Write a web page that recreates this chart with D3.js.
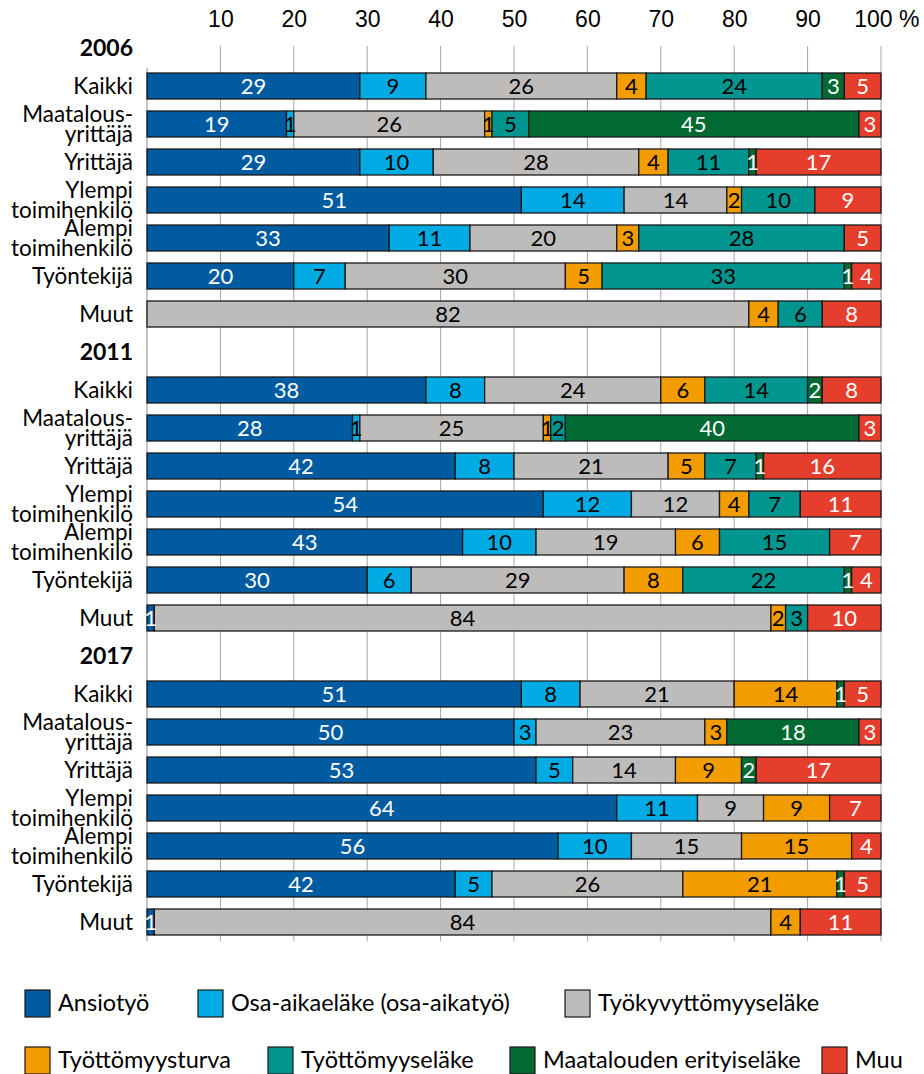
<!DOCTYPE html>
<html>
<head>
<meta charset="utf-8">
<script src="https://cdn.jsdelivr.net/npm/d3@7"></script>
<style>
  body { margin: 0; background: #fff; }
  svg { font-family: Lato, "Open Sans", sans-serif; }
  .tick text { font-size: 23px; fill: #000; }
</style>
</head>
<body>
<svg id="chart"></svg>
<script>
// Chart data.
const years = ["2006", "2011", "2017"];
const groups = ["Kaikki", "Maatalous-\nyrittäjä", "Yrittäjä", "Ylempi\ntoimihenkilö",
  "Alempi\ntoimihenkilö", "Työntekijä", "Muut"];
const series = ["Ansiotyö", "Osa-aikaeläke (osa-aikatyö)", "Työkyvyttömyyseläke",
  "Työttömyysturva", "Työttömyyseläke", "Maatalouden erityiseläke", "Muu"];
const colors = ["#005ba1", "#00abe4", "#bebcba", "#f39c00", "#00958e", "#006a32", "#e63e2c"];
const labelColors = ["#fff", "#000", "#000", "#000", "#000", "#fff", "#fff"];
const tickValues = [10, 20, 30, 40, 50, 60, 70, 80, 90, 100];

// one row per group, values in series order
const values2006 = [
  [29, 9, 26, 4, 24, 3, 5],
  [19, 1, 26, 1, 5, 45, 3],
  [29, 10, 28, 4, 11, 1, 17],
  [51, 14, 14, 2, 10, 0, 9],
  [33, 11, 20, 3, 28, 0, 5],
  [20, 7, 30, 5, 33, 1, 4],
  [0, 0, 82, 4, 6, 0, 8]
];
const values2011 = [
  [38, 8, 24, 6, 14, 2, 8],
  [28, 1, 25, 1, 2, 40, 3],
  [42, 8, 21, 5, 7, 1, 16],
  [54, 12, 12, 4, 7, 0, 11],
  [43, 10, 19, 6, 15, 0, 7],
  [30, 6, 29, 8, 22, 1, 4],
  [1, 0, 84, 2, 3, 0, 10]
];
const values2017 = [
  [51, 8, 21, 14, 0, 1, 5],
  [50, 3, 23, 3, 0, 18, 3],
  [53, 5, 14, 9, 0, 2, 17],
  [64, 11, 9, 9, 0, 0, 7],
  [56, 10, 15, 15, 0, 0, 4],
  [42, 5, 26, 21, 0, 1, 5],
  [1, 0, 84, 4, 0, 0, 11]
];
const valuesByYear = [values2006, values2011, values2017];

const width = 924;
const height = 1074;

const svg = d3.select("#chart")
  .attr("width", width)
  .attr("height", height);

function translate(x, y) {
  return "translate(" + x + "," + y + ")";
}

// Build rows: a header row per year followed by its groups.
let rows = [];
years.forEach((year, yi) => {
  rows.push({ id: year, header: true, label: year });
  groups.forEach((g, gi) => {
    let row = { id: year + "-" + gi, header: false, label: g };
    series.forEach((s, si) => row[s] = valuesByYear[yi][gi][si]);
    rows.push(row);
  });
});
const barRows = rows.filter(r => !r.header);

const xScale = d3.scaleLinear().domain([0, 100]).range([147, 881]);
const yScale = d3.scaleBand()
  .domain(rows.map(r => r.id))
  .range([29, 941])
  .paddingInner(0.316)
  .paddingOuter(0.158);

drawGrid();
drawAxis();
drawBars();
drawRowLabels();
drawLegend();

function drawGrid() {
  let grid = svg.append("g").attr("id", "grid");
  grid.selectAll("line.grid")
    .data(tickValues)
    .enter()
    .append("line")
    .attr("class", "grid")
    .attr("x1", d => xScale(d)).attr("x2", d => xScale(d))
    .attr("y1", 46).attr("y2", 941)
    .attr("stroke", "#a6a6a6")
    .attr("stroke-width", 1);

  grid.append("line")
    .attr("x1", xScale(0)).attr("x2", xScale(0))
    .attr("y1", 68).attr("y2", 941)
    .attr("stroke", "#8c8c8c")
    .attr("stroke-width", 1);
}

function drawAxis() {
  let axis = d3.axisTop(xScale).tickValues(tickValues).tickSize(0).tickFormat(d3.format("d"));
  let g = svg.append("g")
    .attr("id", "x-axis")
    .attr("transform", translate(0, 29))
    .call(axis);
  g.select(".domain").remove();
  g.selectAll("text")
    .attr("y", -10)
    .attr("dy", "0.36em");

  // last label reads "100 %"; keep it inside the picture
  g.selectAll(".tick text").filter(d => d === 100)
    .attr("text-anchor", "end")
    .attr("x", width - 5 - xScale(100))
    .text("100 %");
}

function drawBars() {
  let stack = d3.stack().keys(series);
  let layers = stack(barRows);

  let bars = svg.append("g").attr("id", "bars");
  layers.forEach((layer, si) => {
    let segs = layer.filter(d => d[1] - d[0] > 0);
    bars.append("g")
      .selectAll("rect")
      .data(segs)
      .enter()
      .append("rect")
      .attr("x", d => xScale(d[0]))
      .attr("width", d => xScale(d[1]) - xScale(d[0]))
      .attr("y", d => yScale(d.data.id))
      .attr("height", yScale.bandwidth())
      .attr("fill", colors[si])
      .attr("stroke", "#1a1a1a")
      .attr("stroke-width", 1.3);
  });

  let labels = svg.append("g").attr("id", "bar-labels");
  layers.forEach((layer, si) => {
    let segs = layer.filter(d => d[1] - d[0] > 0);
    labels.append("g")
      .selectAll("text")
      .data(segs)
      .enter()
      .append("text")
      .attr("x", d => xScale((d[0] + d[1]) / 2))
      .attr("y", d => yScale(d.data.id) + yScale.bandwidth() / 2)
      .attr("dy", "0.36em")
      .attr("text-anchor", "middle")
      .attr("font-size", 22)
      .attr("fill", labelColors[si])
      .text(d => d[1] - d[0]);
  });
}

function drawRowLabels() {
  let lineHeight = 19.5;
  let g = svg.append("g").attr("id", "row-labels");
  let labels = g.selectAll("text")
    .data(rows)
    .enter()
    .append("text")
    .attr("text-anchor", "end")
    .attr("font-size", d => d.header ? 23 : 22.5)
    .attr("font-weight", d => d.header ? "bold" : "normal")
    .attr("y", d => yScale(d.id) + yScale.bandwidth() / 2 + 8);

  labels.each(function(d) {
    let lines = d.label.split("\n");
    let t = d3.select(this);
    lines.forEach((line, i) => {
      t.append("tspan")
        .attr("x", 133)
        .attr("dy", i == 0 ? -(lines.length - 1) * lineHeight / 2 : lineHeight)
        .text(line);
    });
  });
}

function drawLegend() {
  // two rows of legend items, as in the original
  let layout = [
    { row: 0, x: 25 }, { row: 0, x: 198 }, { row: 0, x: 565 },
    { row: 1, x: 25 }, { row: 1, x: 268 }, { row: 1, x: 510 }, { row: 1, x: 822 }
  ];
  let rowY = [1003, 1060];

  let legend = svg.append("g").attr("id", "legend");
  let items = legend.selectAll("g")
    .data(series)
    .enter()
    .append("g")
    .attr("transform", (d, i) => translate(layout[i].x, rowY[layout[i].row]));

  items.append("rect")
    .attr("x", 0)
    .attr("y", -13)
    .attr("width", 25)
    .attr("height", 27)
    .attr("fill", (d, i) => colors[i])
    .attr("stroke", "#1a1a1a")
    .attr("stroke-width", 1.2);

  items.append("text")
    .attr("x", 33)
    .attr("dy", "0.36em")
    .attr("font-size", 23.5)
    .text(d => d);
}
</script>
</body>
</html>
